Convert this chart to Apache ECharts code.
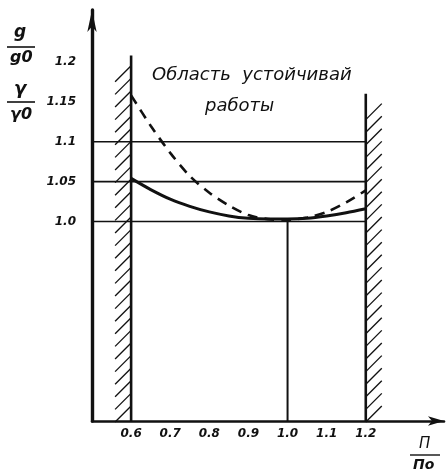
<!DOCTYPE html>
<html>
<head>
<meta charset="utf-8">
<script src="https://cdn.jsdelivr.net/npm/echarts@6/dist/echarts.min.js"></script>
<style>
  html, body { margin: 0; padding: 0; background: #fff; }
  #chart { width: 447px; height: 474px; }
</style>
</head>
<body>
<div id="chart"></div>
<script>
// axis ranges (П/По and q/q0)
const xMin = 0.5, xMax = 1.4;
const yMin = 0.75, yMax = 1.265;

// tick labels
const xTicks = [0.6, 0.7, 0.8, 0.9, 1.0, 1.1, 1.2];
const xTickLabels = ["0.6", "0.7", "0.8", "0.9", "1.0", "1.1", "1.2"];
const yTicks = [1.0, 1.05, 1.1, 1.15, 1.2];
const yTickLabels = ["1.0", "1.05", "1.1", "1.15", "1.2"];

// solid curve  q/q0
const solidX = [0.6, 0.65, 0.7, 0.75, 0.8, 0.85, 0.9, 0.95, 1.0, 1.05, 1.1, 1.15, 1.2];
const solidY = [1.054, 1.040, 1.028, 1.019, 1.012, 1.007, 1.004, 1.003, 1.003, 1.004, 1.007, 1.011, 1.016];

// dashed curve  γ/γ0
const dashX = [0.6, 0.65, 0.7, 0.75, 0.8, 0.85, 0.9, 0.95, 1.0, 1.05, 1.1, 1.15, 1.2];
const dashY = [1.158, 1.120, 1.086, 1.057, 1.036, 1.020, 1.008, 1.003, 1.002, 1.005, 1.012, 1.024, 1.039];

// horizontal levels, walls of the stable zone
const levels = [1.0, 1.05, 1.1];
const wallX = [0.6, 1.2];
const wallTop = [1.208, 1.16];
const wallSide = [-1, 1]; // hatch on the outer side
const midLineX = 1.0;

const pair = (xs, ys) => xs.map((x, i) => [x, ys[i]]);
const findLabel = (v, ticks, labels) => {
  const i = ticks.findIndex((t) => Math.abs(t - v) < 1e-6);
  return i < 0 ? "" : labels[i];
};

const ink = "#111";
const thin = { color: ink, width: 1.6 };

const series = [];

levels.forEach((lv) => {
  series.push({
    type: "line", silent: true, symbol: "none",
    data: [[xMin, lv], [wallX[1], lv]],
    lineStyle: thin,
  });
});

series.push({
  type: "line", silent: true, symbol: "none",
  data: [[midLineX, yMin], [midLineX, 1.0]],
  lineStyle: { color: ink, width: 2 },
});

wallX.forEach((wx, i) => {
  series.push({
    type: "line", silent: true, symbol: "none",
    data: [[wx, yMin], [wx, wallTop[i]]],
    lineStyle: { color: ink, width: 2.6 },
  });
});

// hatching along the walls
series.push({
  type: "custom",
  silent: true,
  data: wallX.map((wx, i) => [wx, wallTop[i], wallSide[i]]),
  renderItem: function (params, api) {
    const x = api.value(0);
    const top = api.coord([x, api.value(1)]);
    const bot = api.coord([x, yMin]);
    const side = api.value(2);
    const w = 16, step = 12.6;
    const children = [];
    for (let y = bot[1] + 1; y - w > top[1] - 2; y -= step) {
      const x0 = side < 0 ? top[0] - w : top[0];
      children.push({
        type: "line",
        shape: { x1: x0, y1: y, x2: x0 + w, y2: y - w },
        style: { stroke: ink, lineWidth: 1.3 },
      });
    }
    return { type: "group", children: children };
  },
});

series.push({
  name: "q/q0",
  type: "line", silent: true, symbol: "none", smooth: 0.3,
  data: pair(solidX, solidY),
  lineStyle: { color: ink, width: 3 },
});

series.push({
  name: "γ/γ0",
  type: "line", silent: true, symbol: "none", smooth: 0.3,
  data: pair(dashX, dashY),
  lineStyle: { color: ink, width: 2.6, type: [10, 7] },
});

const labelFont = {
  color: ink, fontStyle: "italic", fontWeight: "bold",
  fontFamily: "DejaVu Sans", fontSize: 12,
};
const handFont = 'italic 18px "DejaVu Sans"';

const chart = echarts.init(document.getElementById("chart"));
chart.setOption({
  animation: false,
  backgroundColor: "#fff",
  grid: { left: 92, right: 2, top: 10, bottom: 53 },
  xAxis: {
    type: "value", min: xMin, max: xMax, interval: 0.1,
    axisLine: {
      onZero: false, symbol: ["none", "arrow"], symbolSize: [7, 16],
      lineStyle: { color: ink, width: 2.6 },
    },
    axisTick: { show: false },
    splitLine: { show: false },
    axisLabel: Object.assign({
      margin: 7,
      formatter: (v) => findLabel(v, xTicks, xTickLabels),
    }, labelFont),
  },
  yAxis: {
    type: "value", min: yMin, max: yMax, interval: 0.05,
    axisLine: {
      onZero: false, symbol: ["none", "arrow"], symbolSize: [7, 22],
      lineStyle: { color: ink, width: 3.4 },
    },
    axisTick: { show: false },
    splitLine: { show: false },
    axisLabel: Object.assign({
      margin: 16,
      formatter: (v) => findLabel(v, yTicks, yTickLabels),
    }, labelFont),
  },
  graphic: [
    { type: "text", left: 152, top: 66, style: { text: "Область  устойчивай", font: handFont, fill: ink } },
    { type: "text", left: 205, top: 97, style: { text: "работы", font: handFont, fill: ink } },
    // y title fractions
    { type: "text", left: 14, top: 24, style: { text: "g", font: 'italic bold 17px "DejaVu Sans"', fill: ink } },
    { type: "line", shape: { x1: 7, y1: 47, x2: 35, y2: 47 }, style: { stroke: ink, lineWidth: 1.6 } },
    { type: "text", left: 10, top: 50, style: { text: "g0", font: 'italic bold 16px "DejaVu Sans"', fill: ink } },
    { type: "text", left: 14, top: 80, style: { text: "γ", font: 'italic bold 18px "DejaVu Sans"', fill: ink } },
    { type: "line", shape: { x1: 7, y1: 102, x2: 35, y2: 102 }, style: { stroke: ink, lineWidth: 1.6 } },
    { type: "text", left: 10, top: 107, style: { text: "γ0", font: 'italic bold 16px "DejaVu Sans"', fill: ink } },
    // x title fraction
    { type: "text", left: 419, top: 437, style: { text: "П", font: 'italic 15px "DejaVu Sans"', fill: ink } },
    { type: "line", shape: { x1: 410, y1: 455, x2: 440, y2: 455 }, style: { stroke: ink, lineWidth: 1.4 } },
    { type: "text", left: 413, top: 458, style: { text: "По", font: 'italic bold 14px "DejaVu Sans"', fill: ink } },
  ],
  series: series,
});
</script>
</body>
</html>
